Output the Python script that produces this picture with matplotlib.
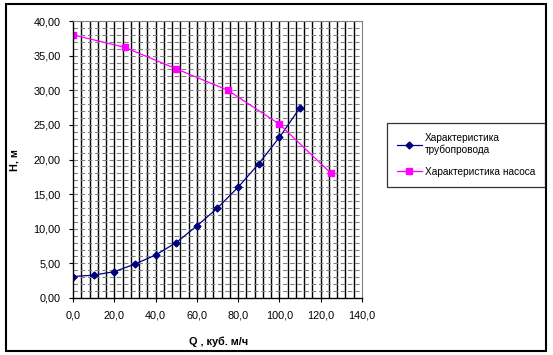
import numpy as np
import matplotlib.pyplot as plt
from matplotlib.patches import Rectangle

plt.rcParams['font.family'] = ['Liberation Sans', 'DejaVu Sans']

# pipeline characteristic
q_pipe = [0, 10, 20, 30, 40, 50, 60, 70, 80, 90, 100, 110]
h_pipe = [3.1, 3.3, 3.8, 4.9, 6.2, 8.0, 10.4, 13.0, 16.0, 19.4, 23.2, 27.5]

# pump characteristic
q_pump = [0, 25, 50, 75, 100, 125]
h_pump = [38.0, 36.2, 33.1, 30.0, 25.1, 18.0]

label_pipe = 'Характеристика\nтрубопровода'
label_pump = 'Характеристика насоса'


def fmt(v, nd):
    return ('%.' + str(nd) + 'f') % v


fig = plt.figure(figsize=(5.53, 3.55), dpi=100)
ax = fig.add_axes([0.132, 0.1606, 0.5226, 0.7802])

ax.plot(q_pipe, h_pipe, color='#000080', lw=0.9, marker='D', ms=3.5,
        label=label_pipe)
ax.plot(q_pump, h_pump, color='#FF00FF', lw=0.9, marker='s', ms=4.5,
        label=label_pump)

ax.set_xlim(0, 140)
ax.set_ylim(0, 40)
xt = np.arange(0, 141, 20)
yt = np.arange(0, 41, 5)
ax.set_xticks(xt)
ax.set_xticklabels([fmt(v, 1).replace('.', ',') for v in xt])
ax.set_yticks(yt)
ax.set_yticklabels([fmt(v, 2).replace('.', ',') for v in yt])
ax.tick_params(labelsize=7.8, length=3, width=0.8, direction='out', pad=6)

# grid: solid black verticals every 4, dashed gray horizontals every 1
for x in np.arange(4, 140, 4):
    ax.axvline(x, color='black', lw=1.0, zorder=0)
for y in np.arange(1, 40, 1):
    ax.axhline(y, color='#808080', lw=0.8, ls=(0, (4, 2.5)), zorder=0)

ax.spines['top'].set_color('#808080')
ax.spines['right'].set_color('#808080')
ax.spines['left'].set_linewidth(1.0)
ax.spines['bottom'].set_linewidth(1.0)

fig.text(0.027, 0.55, 'H, м', rotation=90, fontsize=7.8, fontweight='bold',
         ha='center', va='center')
fig.text(0.395, 0.037, 'Q , куб. м/ч', fontsize=7.8, fontweight='bold',
         ha='center', va='center')

leg = fig.legend(loc='upper left', bbox_to_anchor=(0.700, 0.653),
                 fontsize=7.3, frameon=True, fancybox=False, edgecolor='black',
                 handlelength=2.4, borderpad=1.0, labelspacing=1.1,
                 handletextpad=0.3, borderaxespad=0)
leg.get_frame().set_linewidth(0.9)

fig.patches.append(Rectangle((6 / 553, 4 / 355), 540 / 553, 347 / 355,
                             transform=fig.transFigure, fill=False,
                             edgecolor='black', lw=1.5))

fig.savefig('out.png', dpi=100)
